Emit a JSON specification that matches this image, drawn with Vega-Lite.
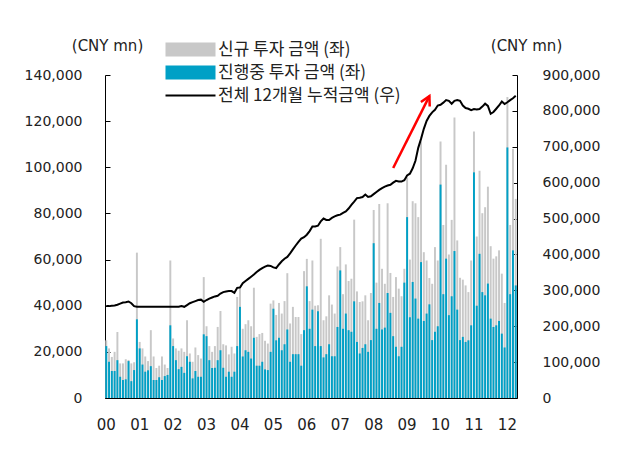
{
  "$schema": "https://vega.github.io/schema/vega-lite/v6.json",
  "width": 412,
  "height": 323,
  "autosize": "none",
  "padding": {"left": 105, "top": 75, "right": 100, "bottom": 64},
  "background": "white",
  "config": {
    "view": {"stroke": null},
    "font": "DejaVu Sans",
    "axis": {"grid": false, "domainColor": "#000", "tickColor": "#000", "labelColor": "#222", "labelFontSize": 14, "labelFont": "DejaVu Sans", "titleFontSize": 15, "titleFontWeight": "normal", "titleColor": "#222", "titleFont": "DejaVu Sans"}
  },
  "data": {"values": [
    {"m":"2000-01","g":25000,"b":22500,"c":256000},{"m":"2000-02","g":21500,"b":15700,"c":256000},{"m":"2000-03","g":17800,"b":11700,"c":257000},{"m":"2000-04","g":20000,"b":11700,"c":258000},{"m":"2000-05","g":28600,"b":16400,"c":260000},{"m":"2000-06","g":15000,"b":9200,"c":263000},{"m":"2000-07","g":15000,"b":7800,"c":266000},{"m":"2000-08","g":16800,"b":8100,"c":267000},{"m":"2000-09","g":16500,"b":16000,"c":269000},{"m":"2000-10","g":15000,"b":7300,"c":264000},{"m":"2000-11","g":15500,"b":12100,"c":256000},{"m":"2000-12","g":63000,"b":34100,"c":254000},
    {"m":"2001-01","g":24300,"b":21500,"c":254000},{"m":"2001-02","g":21500,"b":14500,"c":254000},{"m":"2001-03","g":18000,"b":11400,"c":254000},{"m":"2001-04","g":16000,"b":12000,"c":254000},{"m":"2001-05","g":29400,"b":13800,"c":254000},{"m":"2001-06","g":18000,"b":7800,"c":254000},{"m":"2001-07","g":13000,"b":7800,"c":254000},{"m":"2001-08","g":14000,"b":9000,"c":254000},{"m":"2001-09","g":18000,"b":7800,"c":254000},{"m":"2001-10","g":14500,"b":9500,"c":254000},{"m":"2001-11","g":13000,"b":10000,"c":254000},{"m":"2001-12","g":59600,"b":31500,"c":254000},
    {"m":"2002-01","g":25800,"b":22500,"c":254000},{"m":"2002-02","g":21500,"b":16400,"c":254000},{"m":"2002-03","g":20500,"b":12500,"c":254000},{"m":"2002-04","g":21500,"b":13500,"c":256000},{"m":"2002-05","g":20000,"b":10900,"c":254000},{"m":"2002-06","g":33700,"b":18100,"c":259000},{"m":"2002-07","g":19300,"b":15700,"c":264000},{"m":"2002-08","g":15700,"b":8500,"c":267000},{"m":"2002-09","g":21900,"b":11700,"c":270000},{"m":"2002-10","g":18600,"b":9200,"c":273000},{"m":"2002-11","g":17100,"b":9200,"c":274000},{"m":"2002-12","g":52400,"b":27600,"c":268000},
    {"m":"2003-01","g":31100,"b":26800,"c":273000},{"m":"2003-02","g":22500,"b":16400,"c":277000},{"m":"2003-03","g":20000,"b":13000,"c":280000},{"m":"2003-04","g":22500,"b":13100,"c":283000},{"m":"2003-05","g":30800,"b":16400,"c":285000},{"m":"2003-06","g":37700,"b":20700,"c":291000},{"m":"2003-07","g":23300,"b":13100,"c":295000},{"m":"2003-08","g":22800,"b":9200,"c":297000},{"m":"2003-09","g":18900,"b":11400,"c":298000},{"m":"2003-10","g":22200,"b":9200,"c":298000},{"m":"2003-11","g":19300,"b":11400,"c":293000},{"m":"2003-12","g":43800,"b":22500,"c":307000},
    {"m":"2004-01","g":47400,"b":39500,"c":308000},{"m":"2004-02","g":30000,"b":18000,"c":320000},{"m":"2004-03","g":32000,"b":20700,"c":326000},{"m":"2004-04","g":33700,"b":20000,"c":332000},{"m":"2004-05","g":31100,"b":17100,"c":338000},{"m":"2004-06","g":47800,"b":26100,"c":344000},{"m":"2004-07","g":26500,"b":14000,"c":351000},{"m":"2004-08","g":27700,"b":14000,"c":357000},{"m":"2004-09","g":28200,"b":15700,"c":362000},{"m":"2004-10","g":24800,"b":12400,"c":366000},{"m":"2004-11","g":23600,"b":12100,"c":369000},{"m":"2004-12","g":40900,"b":20000,"c":368000},
    {"m":"2005-01","g":42300,"b":38700,"c":364000},{"m":"2005-02","g":36000,"b":25000,"c":362000},{"m":"2005-03","g":41200,"b":26100,"c":372000},{"m":"2005-04","g":36600,"b":20700,"c":381000},{"m":"2005-05","g":42000,"b":23300,"c":388000},{"m":"2005-06","g":54100,"b":29700,"c":393000},{"m":"2005-07","g":32300,"b":15700,"c":403000},{"m":"2005-08","g":39500,"b":19000,"c":414000},{"m":"2005-09","g":35100,"b":19000,"c":425000},{"m":"2005-10","g":35100,"b":19000,"c":435000},{"m":"2005-11","g":27700,"b":14000,"c":444000},{"m":"2005-12","g":55000,"b":29400,"c":448000},
    {"m":"2006-01","g":60300,"b":48400,"c":455000},{"m":"2006-02","g":42000,"b":30000,"c":465000},{"m":"2006-03","g":59600,"b":38300,"c":478000},{"m":"2006-04","g":40000,"b":22500,"c":478000},{"m":"2006-05","g":40200,"b":37600,"c":480000},{"m":"2006-06","g":69000,"b":22500,"c":492000},{"m":"2006-07","g":33700,"b":17600,"c":500000},{"m":"2006-08","g":35400,"b":19000,"c":496000},{"m":"2006-09","g":44500,"b":23300,"c":496000},{"m":"2006-10","g":40500,"b":18100,"c":502000},{"m":"2006-11","g":36600,"b":18100,"c":506000},{"m":"2006-12","g":57000,"b":30800,"c":509000},
    {"m":"2007-01","g":65400,"b":55300,"c":511000},{"m":"2007-02","g":45000,"b":30000,"c":516000},{"m":"2007-03","g":57900,"b":36600,"c":520000},{"m":"2007-04","g":50700,"b":29400,"c":528000},{"m":"2007-05","g":51700,"b":28700,"c":538000},{"m":"2007-06","g":77300,"b":41900,"c":547000},{"m":"2007-07","g":46200,"b":24300,"c":557000},{"m":"2007-08","g":41600,"b":19300,"c":558000},{"m":"2007-09","g":41900,"b":21700,"c":560000},{"m":"2007-10","g":44500,"b":23300,"c":567000},{"m":"2007-11","g":33700,"b":20000,"c":560000},{"m":"2007-12","g":45500,"b":25100,"c":562000},
    {"m":"2008-01","g":81500,"b":67100,"c":568000},{"m":"2008-02","g":50000,"b":30000,"c":574000},{"m":"2008-03","g":84100,"b":41200,"c":580000},{"m":"2008-04","g":56000,"b":29700,"c":585000},{"m":"2008-05","g":49500,"b":30500,"c":589000},{"m":"2008-06","g":84400,"b":45500,"c":592000},{"m":"2008-07","g":54200,"b":36900,"c":594000},{"m":"2008-08","g":43800,"b":26800,"c":600000},{"m":"2008-09","g":52400,"b":22200,"c":605000},{"m":"2008-10","g":47400,"b":18100,"c":603000},{"m":"2008-11","g":44100,"b":22200,"c":603000},{"m":"2008-12","g":56000,"b":50000,"c":607000},
    {"m":"2009-01","g":95600,"b":78400,"c":620000},{"m":"2009-02","g":60000,"b":35000,"c":625000},{"m":"2009-03","g":85300,"b":50300,"c":640000},{"m":"2009-04","g":84400,"b":43100,"c":661000},{"m":"2009-05","g":78400,"b":34400,"c":697000},{"m":"2009-06","g":111200,"b":58900,"c":722000},{"m":"2009-07","g":63200,"b":33400,"c":750000},{"m":"2009-08","g":59600,"b":36600,"c":772000},{"m":"2009-09","g":52000,"b":40600,"c":786000},{"m":"2009-10","g":49500,"b":25100,"c":796000},{"m":"2009-11","g":65400,"b":28700,"c":803000},{"m":"2009-12","g":59600,"b":31100,"c":815000},
    {"m":"2010-01","g":111200,"b":92500,"c":817000},{"m":"2010-02","g":75000,"b":45000,"c":823000},{"m":"2010-03","g":101100,"b":60400,"c":830000},{"m":"2010-04","g":62200,"b":35900,"c":828000},{"m":"2010-05","g":77200,"b":44100,"c":820000},{"m":"2010-06","g":121600,"b":63700,"c":828000},{"m":"2010-07","g":68300,"b":38300,"c":830000},{"m":"2010-08","g":52100,"b":25100,"c":828000},{"m":"2010-09","g":51300,"b":26500,"c":815000},{"m":"2010-10","g":48800,"b":24300,"c":808000},{"m":"2010-11","g":45900,"b":25000,"c":806000},{"m":"2010-12","g":59600,"b":31500,"c":802000},
    {"m":"2011-01","g":115500,"b":97800,"c":805000},{"m":"2011-02","g":70000,"b":40000,"c":804000},{"m":"2011-03","g":98500,"b":62500,"c":805000},{"m":"2011-04","g":80100,"b":45900,"c":812000},{"m":"2011-05","g":82700,"b":44500,"c":820000},{"m":"2011-06","g":91600,"b":49600,"c":814000},{"m":"2011-07","g":65800,"b":34400,"c":792000},{"m":"2011-08","g":60400,"b":30800,"c":797000},{"m":"2011-09","g":61400,"b":31500,"c":806000},{"m":"2011-10","g":64000,"b":33400,"c":815000},{"m":"2011-11","g":53900,"b":27900,"c":826000},{"m":"2011-12","g":41200,"b":21900,"c":819000},
    {"m":"2012-01","g":130500,"b":108600,"c":824000},{"m":"2012-02","g":75000,"b":45000,"c":830000},{"m":"2012-03","g":108000,"b":64000,"c":835000},{"m":"2012-04","g":86300,"b":48800,"c":842000}
  ]},
  "layer": [
    {
      "layer": [
        {
          "mark": {"type": "bar", "color": "#c8c8c8"},
          "encoding": {
            "x": {"field": "m", "type": "ordinal", "sort": "ascending", "scale": {"type": "band", "paddingInner": 0.3, "paddingOuter": 0.1},
              "axis": {"values": ["2000-01","2001-01","2002-01","2003-01","2004-01","2005-01","2006-01","2007-01","2008-01","2009-01","2010-01","2011-01","2012-01"], "labelExpr": "substring(datum.value, 2, 4)", "labelAngle": 0, "title": null, "tickSize": -5, "labelPadding": 24, "labelFontSize": 15}},
            "y": {"field": "g", "type": "quantitative", "scale": {"domain": [0, 140000], "nice": false},
              "axis": {"orient": "left", "values": [0,20000,40000,60000,80000,100000,120000,140000], "format": ",d", "tickSize": -5, "labelPadding": 28, "title": "(CNY mn)", "titleAngle": 0, "titleX": 2, "titleY": -30, "titleAlign": "center", "titleBaseline": "middle"}},
            "color": {"datum": "신규 투자 금액 (좌)", "type": "nominal",
              "scale": {"domain": ["신규 투자 금액 (좌)", "진행중 투자 금액 (좌)", "전체 12개월 누적금액 (우)"], "range": ["#c8c8c8", "#00a0c6", "#000000"]},
              "legend": {"orient": "none", "legendX": 77, "legendY": -34, "title": null, "padding": 0, "symbolType": "M-5,-1.4H5V1.4H-5Z", "symbolSize": 100, "labelOffset": 19, "labelFontSize": 17, "labelFont": "Noto Sans CJK KR", "labelColor": "#222", "rowPadding": 5, "labelLimit": 400,
                "encode": {"symbols": {"update": {
                  "shape": {"signal": "datum.value === '전체 12개월 누적금액 (우)' ? 'M-5,0H5' : 'M-5,-1.4H5V1.4H-5Z'"},
                  "fill": {"signal": "datum.value === '전체 12개월 누적금액 (우)' ? 'transparent' : scale('color', datum.value)"},
                  "stroke": {"signal": "datum.value === '전체 12개월 누적금액 (우)' ? '#000' : 'transparent'"},
                  "strokeWidth": {"signal": "datum.value === '전체 12개월 누적금액 (우)' ? 2 : 0"},
                  "opacity": {"value": 1}
                }}}}
            }
          }
        },
        {
          "mark": {"type": "bar"},
          "encoding": {
            "x": {"field": "m", "type": "ordinal", "sort": "ascending"},
            "y": {"field": "b", "type": "quantitative"},
            "color": {"datum": "진행중 투자 금액 (좌)", "type": "nominal"}
          }
        }
      ]
    },
    {
      "layer": [
        {
          "mark": {"type": "line", "strokeWidth": 2},
          "encoding": {
            "x": {"field": "m", "type": "ordinal", "sort": "ascending"},
            "y": {"field": "c", "type": "quantitative", "scale": {"domain": [0, 900000], "nice": false},
              "axis": {"orient": "right", "values": [0,100000,200000,300000,400000,500000,600000,700000,800000,900000], "format": ",d", "tickSize": -5, "labelPadding": 30, "title": "(CNY mn)", "titleAngle": 0, "titleX": 9, "titleY": -30, "titleAlign": "center", "titleBaseline": "middle"}},
            "color": {"datum": "전체 12개월 누적금액 (우)", "type": "nominal"}
          }
        },
        {
          "data": {"values": [{"m": "2008-08", "c": 641000, "part": "tail"}, {"m": "2009-09", "c": 841000, "part": "head"}]},
          "layer": [
            {
              "mark": {"type": "line", "color": "#ff0000", "strokeWidth": 2.5},
              "encoding": {
                "x": {"field": "m", "type": "ordinal", "sort": "ascending"},
                "y": {"field": "c", "type": "quantitative", "axis": {"orient": "right", "values": [0,100000,200000,300000,400000,500000,600000,700000,800000,900000], "format": ",d", "tickSize": -5, "labelPadding": 30, "title": "(CNY mn)", "titleAngle": 0, "titleX": 9, "titleY": -30, "titleAlign": "center", "titleBaseline": "middle"}}
              }
            },
            {
              "transform": [{"filter": "datum.part === 'head'"}],
              "mark": {"type": "point", "shape": "M-0.55,1L0,0L0.55,1", "filled": false, "color": "#ff0000", "strokeWidth": 2.5, "size": 324, "angle": 27, "opacity": 1},
              "encoding": {
                "x": {"field": "m", "type": "ordinal", "sort": "ascending"},
                "y": {"field": "c", "type": "quantitative", "axis": {"orient": "right", "values": [0,100000,200000,300000,400000,500000,600000,700000,800000,900000], "format": ",d", "tickSize": -5, "labelPadding": 30, "title": "(CNY mn)", "titleAngle": 0, "titleX": 9, "titleY": -30, "titleAlign": "center", "titleBaseline": "middle"}}
              }
            }
          ]
        }
      ]
    }
  ],
  "resolve": {"scale": {"y": "independent"}}
}
